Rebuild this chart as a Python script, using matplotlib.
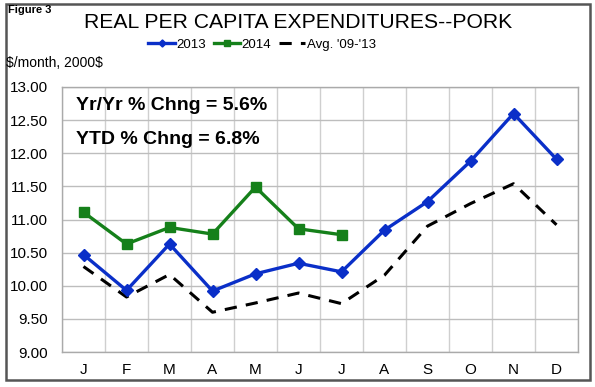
import matplotlib
matplotlib.use("Agg")
import matplotlib.pyplot as plt
from matplotlib.patches import Rectangle

months = ["J", "F", "M", "A", "M", "J", "J", "A", "S", "O", "N", "D"]
y2013 = [10.47, 9.93, 10.63, 9.92, 10.18, 10.34, 10.21, 10.84, 11.27, 11.88, 12.60, 11.91]
y2014 = [11.11, 10.63, 10.88, 10.78, 11.49, 10.86, 10.77]
avg = [10.29, 9.83, 10.17, 9.60, 9.74, 9.89, 9.73, 10.16, 10.90, 11.24, 11.54, 10.92]
yticks = [9.00, 9.50, 10.00, 10.50, 11.00, 11.50, 12.00, 12.50, 13.00]

plt.rcParams['font.family'] = ['Liberation Sans', 'DejaVu Sans']

fig = plt.figure(figsize=(5.95, 3.87), dpi=100)
ax = fig.add_axes([62/595, 1-352/387, (578-62)/595, (352-87)/387])

x = list(range(len(months)))
ax.plot(x, y2013, color='#0a2fc8', lw=2.4, marker='D', ms=6, label='2013', zorder=4)
ax.plot(x[:len(y2014)], y2014, color='#15801a', lw=2.4, marker='s', ms=7.5, label='2014', zorder=4)
ax.plot(x, avg, color='black', lw=2.2, ls=(0, (4, 3)), label="Avg. '09-'13", zorder=3)

ax.set_xlim(-0.5, 11.5)
ax.set_ylim(9, 13)
ax.set_yticks(yticks)
ax.set_yticklabels([f"{v:.2f}" for v in yticks], fontsize=11)
ax.set_xticks(x)
ax.set_xticklabels(months, fontsize=11)
ax.set_xticks([i + 0.5 for i in range(-1, 12)], minor=True)
ax.tick_params(axis='both', which='both', length=0, pad=8)
ax.tick_params(axis='y', pad=10)
ax.grid(True, axis='y', which='major', color='#bdbdbd', lw=1)
ax.grid(True, axis='x', which='minor', color='#cfcfcf', lw=1)
ax.set_axisbelow(True)
for s in ax.spines.values():
    s.set_color('#aaaaaa')
    s.set_linewidth(1)

ax.text(0.027, 0.93, "Yr/Yr % Chng = 5.6%", transform=ax.transAxes,
        fontsize=14, fontweight='bold', va='center', ha='left')
ax.text(0.027, 0.80, "YTD % Chng = 6.8%", transform=ax.transAxes,
        fontsize=14, fontweight='bold', va='center', ha='left')

fig.text(8/595, 1-10/387, "Figure 3", fontsize=8, fontweight='bold', va='center', ha='left')
fig.text(298/595, 1-22/387, "REAL PER CAPITA EXPENDITURES--PORK", fontsize=15.2,
         va='center', ha='center')
fig.text(6/595, 1-63/387, r"\$/month, 2000\$", fontsize=10, va='center', ha='left')

fig.legend(loc='center', bbox_to_anchor=(262/595, 1-45/387), ncol=3, frameon=False,
           fontsize=9.5, handlelength=2.0, handletextpad=0.1, columnspacing=0.6,
           markerscale=0.6, borderaxespad=0)

fig.patches.append(Rectangle((6/595, 1-380/387), (590-6)/595, (380-4)/387,
                             transform=fig.transFigure, fill=False,
                             edgecolor='#555555', lw=1.8))

fig.savefig("out.png", dpi=100)
